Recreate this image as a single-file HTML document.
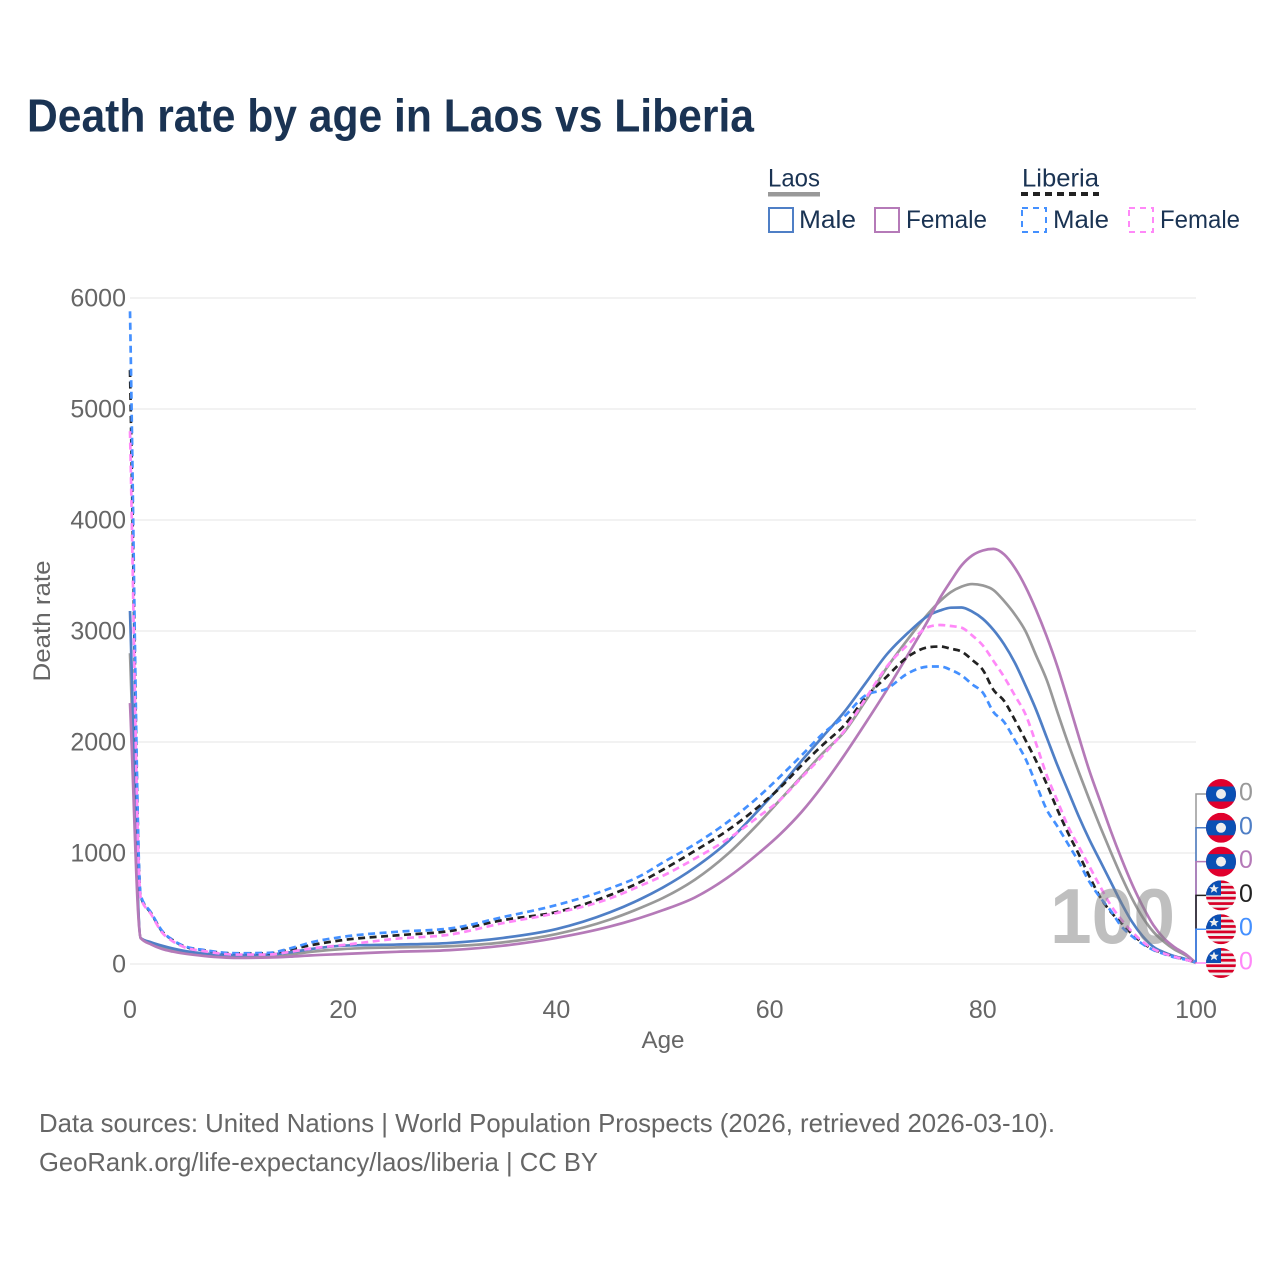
<!DOCTYPE html>
<html lang="en">
<head>
<meta charset="utf-8">
<title>Death rate by age in Laos vs Liberia</title>
<style>
html,body{margin:0;padding:0;background:#fff;}
svg{display:block;font-family:"Liberation Sans",sans-serif;}
</style>
</head>
<body>
<svg id="chart" width="1280" height="1280" viewBox="0 0 1280 1280" xmlns="http://www.w3.org/2000/svg">
  <rect x="0" y="0" width="1280" height="1280" fill="#fff"/>
  <defs>
    <clipPath id="flag-clip"><circle cx="0" cy="0" r="15"/></clipPath>
  </defs>
  <text x="27" y="131.5" font-size="46" font-weight="700" fill="#1a3353" textLength="727" lengthAdjust="spacingAndGlyphs">Death rate by age in Laos vs Liberia</text>

  <g>
    <text x="768" y="186.5" font-size="25" fill="#1a3353" textLength="52" lengthAdjust="spacingAndGlyphs">Laos</text>
    <rect x="768" y="192" width="52" height="4.5" fill="#999"/>
    <rect x="769" y="208" width="24" height="24" fill="none" stroke="#4f7fc6" stroke-width="2"/>
    <text x="799" y="228" font-size="25" fill="#1a3353" textLength="57" lengthAdjust="spacingAndGlyphs">Male</text>
    <rect x="875" y="208" width="24" height="24" fill="none" stroke="#b57ab8" stroke-width="2"/>
    <text x="906" y="228" font-size="25" fill="#1a3353" textLength="81" lengthAdjust="spacingAndGlyphs">Female</text>
    <text x="1022" y="186.5" font-size="25" fill="#1a3353" textLength="77" lengthAdjust="spacingAndGlyphs">Liberia</text>
    <line x1="1021" y1="194" x2="1099" y2="194" stroke="#222" stroke-width="4" stroke-dasharray="7 5"/>
    <rect x="1022" y="208" width="24" height="24" fill="none" stroke="#4490ff" stroke-width="2" stroke-dasharray="6 5"/>
    <text x="1053" y="228" font-size="25" fill="#1a3353" textLength="56" lengthAdjust="spacingAndGlyphs">Male</text>
    <rect x="1129" y="208" width="24" height="24" fill="none" stroke="#ff88f8" stroke-width="2" stroke-dasharray="6 5"/>
    <text x="1160" y="228" font-size="25" fill="#1a3353" textLength="80" lengthAdjust="spacingAndGlyphs">Female</text>
  </g>

  <g id="grid"></g>
  <g id="yticks"></g>
  <g id="xticks"></g>
  <text transform="translate(50,621) rotate(-90)" text-anchor="middle" font-size="24" fill="#666" textLength="121" lengthAdjust="spacingAndGlyphs">Death rate</text>
  <text x="663" y="1048" text-anchor="middle" font-size="24" fill="#666" textLength="43" lengthAdjust="spacingAndGlyphs">Age</text>

  <g id="series"></g>
  <g id="ends"></g>
  <text x="1050" y="943" font-size="78" font-weight="700" fill="#808080" fill-opacity="0.5" textLength="125" lengthAdjust="spacingAndGlyphs">100</text>

  <text x="39" y="1132" font-size="26" fill="#666" textLength="1016" lengthAdjust="spacingAndGlyphs">Data sources: United Nations | World Population Prospects (2026, retrieved 2026-03-10).</text>
  <text x="39" y="1171" font-size="26" fill="#666" textLength="559" lengthAdjust="spacingAndGlyphs">GeoRank.org/life-expectancy/laos/liberia | CC BY</text>
</svg>
<script>
const ages = [0,1,2,3,4,5,7,10,13,15,17,20,25,30,35,40,45,48,50,53,56,59,61,63,65,67,69,71,73,75,76,77,78,79,80,81,82,83,84,85,86,87,88,89,90,91,92,93,94,95,96,97,98,99,100];
const laosBoth = [2800,234,185,150,125,108,85,68,72,85,110,135,150,160,195,270,400,510,595,760,985,1270,1480,1690,1900,2090,2370,2670,2930,3170,3270,3350,3400,3423,3410,3369,3270,3150,3000,2780,2558,2270,1990,1730,1480,1240,1010,790,590,420,290,200,130,80,10];
const laosMale = [3180,234,195,165,140,120,95,80,85,105,135,165,175,190,235,315,465,590,690,870,1095,1390,1600,1830,2050,2270,2530,2790,2985,3145,3185,3210,3212,3175,3110,3010,2880,2715,2510,2290,2040,1790,1560,1330,1120,930,740,550,380,250,155,105,70,45,10];
const laosFemale = [2350,234,175,135,112,95,72,55,58,66,78,90,110,125,165,235,337,420,485,600,775,1000,1170,1370,1610,1880,2170,2470,2790,3120,3300,3450,3590,3680,3725,3740,3690,3570,3400,3190,2950,2680,2370,2050,1740,1470,1200,950,720,520,350,230,150,90,10];
const liberiaBoth = [5350,610,455,295,216,162,122,95,95,130,170,216,258,297,396,468,620,745,850,1020,1200,1420,1590,1790,1975,2150,2400,2590,2770,2855,2860,2840,2815,2740,2650,2470,2370,2200,2018,1830,1620,1390,1180,990,790,604,470,370,270,190,130,95,65,40,15];
const liberiaMale = [5880,620,460,300,216,165,125,97,100,140,195,245,290,320,423,531,680,800,915,1080,1275,1510,1690,1880,2075,2230,2420,2480,2620,2680,2680,2650,2600,2520,2445,2270,2180,2018,1850,1620,1390,1240,1080,920,740,600,480,340,250,180,126,90,60,40,18];
const liberiaFemale = [4800,600,445,285,205,155,115,85,85,110,140,171,228,265,369,459,590,710,795,950,1120,1330,1480,1680,1880,2100,2390,2680,2880,3040,3054,3045,3030,2960,2870,2730,2586,2420,2250,1985,1700,1470,1240,1060,880,700,530,400,290,200,135,95,65,40,15];
const yTickLabels = [0,1000,2000,3000,4000,5000,6000];
const xTickLabels = [0,20,40,60,80,100];
const endValueLabels = ["0","0","0","0","0","0"];

const NS = "http://www.w3.org/2000/svg";
function xScale(a){ return 130 + a * 10.66; }
function yScale(v){ return 964 - v * 0.111; }
function mk(tag, attrs, parent){
  const el = document.createElementNS(NS, tag);
  for (const k in attrs) el.setAttribute(k, attrs[k]);
  parent.appendChild(el);
  return el;
}
function monotonePath(xs, ys){
  const n = xs.length;
  const d = [], m = new Array(n);
  for (let i = 0; i < n-1; i++) d.push((ys[i+1]-ys[i])/(xs[i+1]-xs[i]));
  m[0] = d[0];
  m[n-1] = d[n-2];
  for (let i = 1; i < n-1; i++) {
    if (d[i-1]*d[i] <= 0) { m[i] = 0; continue; }
    const h0 = xs[i]-xs[i-1], h1 = xs[i+1]-xs[i];
    const p = (d[i-1]*h1 + d[i]*h0)/(h0+h1);
    m[i] = Math.sign(d[i]) * Math.min(Math.abs(d[i-1]), Math.abs(d[i]), Math.abs(p)/2) * 2;
  }
  let s = 'M' + xs[0].toFixed(1) + ',' + ys[0].toFixed(1);
  for (let i = 0; i < n-1; i++) {
    const h = (xs[i+1]-xs[i])/3;
    s += 'C' + (xs[i]+h).toFixed(2) + ',' + (ys[i]+m[i]*h).toFixed(2) + ' ' +
         (xs[i+1]-h).toFixed(2) + ',' + (ys[i+1]-m[i+1]*h).toFixed(2) + ' ' +
         xs[i+1].toFixed(2) + ',' + ys[i+1].toFixed(2);
  }
  return s;
}
const gridG = document.getElementById('grid');
const yG = document.getElementById('yticks');
const xG = document.getElementById('xticks');
const seriesG = document.getElementById('series');
const endsG = document.getElementById('ends');

yTickLabels.forEach(function(t){
  const gl = mk('line', {x1:130, x2:1196, y1:yScale(t), y2:yScale(t), stroke:'#eeeeee', 'stroke-width':1.5}, gridG);
  
  
  const lb = mk('text', {x:126, y:yScale(t)+8.5, 'text-anchor':'end', 'font-size':25, fill:'#666'}, yG);
  
  
  lb.textContent = t;
});
xTickLabels.forEach(function(t){
  const lb = mk('text', {x:xScale(t), y:1018, 'text-anchor':'middle', 'font-size':25, fill:'#666'}, xG);
  
  
  lb.textContent = t;
});

const seriesList = [
  {key:'laos-both', values:laosBoth, color:'#999999', dash:'', flag:'laos'},
  {key:'laos-male', values:laosMale, color:'#4f7fc6', dash:'', flag:'laos'},
  {key:'laos-female', values:laosFemale, color:'#b57ab8', dash:'', flag:'laos'},
  {key:'liberia-both', values:liberiaBoth, color:'#222222', dash:'7 4.5', flag:'liberia'},
  {key:'liberia-male', values:liberiaMale, color:'#4490ff', dash:'7 4.5', flag:'liberia'},
  {key:'liberia-female', values:liberiaFemale, color:'#ff88f8', dash:'7 4.5', flag:'liberia'}
];

seriesList.forEach(function(s){
  const xs = ages.map(xScale);
  const ys = s.values.map(yScale);
  const attrs = {d:monotonePath(xs, ys), fill:'none', stroke:s.color, 'stroke-width':2.7, 'stroke-linejoin':'round'};
  if (s.dash) attrs['stroke-dasharray'] = s.dash;
  const pl = mk('path', attrs, seriesG);
  
  
});

function laneY(i){ return 794 + i * 33.8; }
seriesList.forEach(function(s,i){
  const lastValue = s.values[s.values.length-1];
  const startY = yScale(lastValue);
  const c = mk('polyline', {points:xScale(100)+','+startY+' 1196,'+laneY(i)+' 1207,'+laneY(i), fill:'none', stroke:s.color, 'stroke-width':1.5}, endsG);
  
  
});
seriesList.forEach(function(s,i){
  const g = mk('g', {transform:'translate(1221,'+laneY(i)+')', 'clip-path':'url(#flag-clip)'}, endsG);
  
  
  if (s.flag === 'laos') {
    mk('rect', {x:-15, y:-15, width:30, height:30, fill:'#e0002d'}, g);
    mk('rect', {x:-15, y:-7.5, width:30, height:15, fill:'#0a50b4'}, g);
    mk('circle', {cx:0, cy:0, r:5, fill:'#eeeeee'}, g);
  } else {
    mk('rect', {x:-15, y:-15, width:30, height:30, fill:'#eeeeee'}, g);
    for (let k = 0; k < 6; k++) {
      mk('rect', {x:-15, y:-15 + k*5.45, width:30, height:2.73, fill:'#d80027'}, g);
    }
    mk('rect', {x:-15, y:-15, width:15, height:15, fill:'#0a50b4'}, g);
    mk('polygon', {points:'-7,-11.5 -5.6,-8.2 -2.2,-8.2 -4.8,-6 -3.9,-2.7 -7,-4.6 -10.1,-2.7 -9.2,-6 -11.8,-8.2 -8.4,-8.2', fill:'#eeeeee'}, g);
  }
  const t = mk('text', {x:1239, y:laneY(i)+6.5, 'font-size':25, fill:s.color}, endsG);
  
  
  t.textContent = endValueLabels[i];
});
</script>
</body>
</html>
